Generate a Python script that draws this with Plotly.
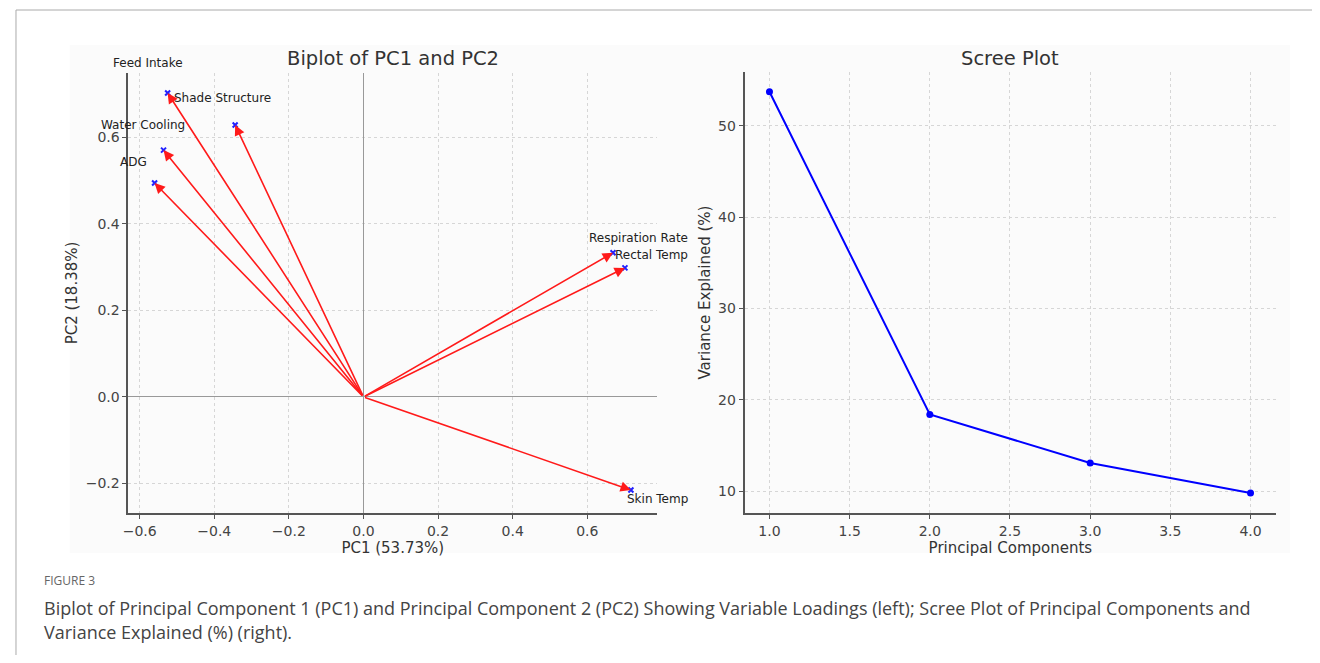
import plotly.graph_objects as go
from plotly.subplots import make_subplots

# ---- data ----
variables = ["Feed Intake", "Shade Structure", "Water Cooling", "ADG",
             "Respiration Rate", "Rectal Temp", "Skin Temp"]
pc1_loadings = [-0.525, -0.344, -0.536, -0.560, 0.669, 0.701, 0.717]
pc2_loadings = [0.702, 0.628, 0.570, 0.494, 0.333, 0.298, -0.215]
label_scale = 1.1

components = [1, 2, 3, 4]
variance_explained = [53.73, 18.38, 13.07, 9.78]

pc1_ticks = [-0.6, -0.4, -0.2, 0.0, 0.2, 0.4, 0.6]
pc2_ticks = [-0.2, 0.0, 0.2, 0.4, 0.6]
comp_ticks = [1.0, 1.5, 2.0, 2.5, 3.0, 3.5, 4.0]
var_ticks = [10, 20, 30, 40, 50]

# page body has 8px margin; figure sized to fit inside the window
OFF = 8
W, H = 1320 - 2 * OFF, 663 - 2 * OFF
def px_x(p): return (p - OFF) / W
def px_y(p): return 1 - (p - OFF) / H

FONT = "DejaVu Sans"
TXT = "#444444"

# biplot axes geometry
bx0, bx1 = 123, 654
by0, by1 = 513, 73
bxr = [-0.63, 0.787]
byr = [-0.268, 0.748]
x_ppu = (bx1 - bx0) / (bxr[1] - bxr[0])
y_ppu = (by0 - by1) / (byr[1] - byr[0])

fig = make_subplots(rows=1, cols=2)

# blue tip markers
fig.add_trace(go.Scatter(x=pc1_loadings, y=pc2_loadings, mode="markers",
                         marker=dict(color="#2020ff", size=5, symbol="x-thin",
                                     line=dict(color="#2020ff", width=2)),
                         showlegend=False, hoverinfo="skip"), row=1, col=1)

fig.add_trace(go.Scatter(x=components, y=variance_explained, mode="lines+markers",
                         line=dict(color="#0000ff", width=2),
                         marker=dict(color="#0000ff", size=7),
                         showlegend=False), row=1, col=2)

annotations = []
for name, px1, px2 in zip(variables, pc1_loadings, pc2_loadings):
    annotations.append(dict(x=px1, y=px2, ax=0, ay=0, xref="x", yref="y",
                            axref="x", ayref="y", showarrow=True, text="",
                            arrowhead=2, arrowsize=1.3, arrowwidth=1.6,
                            arrowcolor="#ff1a1a"))
    # label anchored at the tip, shifted out to label_scale * loading
    annotations.append(dict(x=px1, y=px2, xref="x", yref="y", text=name,
                            showarrow=False,
                            xshift=(label_scale - 1) * px1 * x_ppu,
                            yshift=(label_scale - 1) * px2 * y_ppu,
                            font=dict(family=FONT, size=12, color="#222222"),
                            xanchor="center", yanchor="middle"))

# subplot titles
annotations.append(dict(x=px_x((bx0 + bx1) / 2), y=px_y(58), xref="paper", yref="paper",
                        text="Biplot of PC1 and PC2", showarrow=False,
                        font=dict(family=FONT, size=19.5, color="#333333"),
                        xanchor="center", yanchor="middle"))
annotations.append(dict(x=px_x(1009), y=px_y(58), xref="paper", yref="paper",
                        text="Scree Plot", showarrow=False,
                        font=dict(family=FONT, size=19.5, color="#333333"),
                        xanchor="center", yanchor="middle"))

# caption
annotations.append(dict(x=px_x(36), y=px_y(580), xref="paper", yref="paper",
                        text="FIGURE 3", showarrow=False,
                        font=dict(family="Open Sans", size=12, color="#666666"),
                        xanchor="left", yanchor="middle"))
annotations.append(dict(x=px_x(36), y=px_y(608), xref="paper", yref="paper",
                        text="Biplot of Principal Component 1 (PC1) and Principal Component 2 (PC2) Showing Variable Loadings (left); Scree Plot of Principal Components and",
                        showarrow=False,
                        font=dict(family="Open Sans", size=18, color="#444444"),
                        xanchor="left", yanchor="middle"))
annotations.append(dict(x=px_x(36), y=px_y(632), xref="paper", yref="paper",
                        text="Variance Explained (%) (right).",
                        showarrow=False,
                        font=dict(family="Open Sans", size=18, color="#444444"),
                        xanchor="left", yanchor="middle"))

shapes = [
    # chart image background
    dict(type="rect", xref="paper", yref="paper", x0=px_x(64), x1=px_x(1290),
         y0=px_y(553), y1=px_y(45), fillcolor="#fbfbfb", line=dict(width=0), layer="below"),
    # page frame lines
    dict(type="line", xref="paper", yref="paper", x0=px_x(10), x1=1, y0=px_y(10), y1=px_y(10),
         line=dict(color="#aaaaaa", width=1)),
    dict(type="line", xref="paper", yref="paper", x0=px_x(10), x1=px_x(10), y0=0, y1=px_y(10),
         line=dict(color="#aaaaaa", width=1)),
]

axis_common = dict(showgrid=True, gridcolor="#d6d6d6", griddash="dot", gridwidth=1,
                   showline=True, linecolor="#555555", linewidth=2, mirror=False,
                   ticks="outside", ticklen=4, tickcolor="#555555",
                   tickfont=dict(family=FONT, size=14, color=TXT),
                   title_font=dict(family=FONT, size=15, color="#333333"))

fig.update_xaxes(**axis_common)
fig.update_yaxes(**axis_common)

fig.update_xaxes(domain=[px_x(bx0), px_x(bx1)], range=bxr,
                 tickvals=pc1_ticks, ticktext=[f"{v:.1f}".replace("-", "\u2212") for v in pc1_ticks],
                 zeroline=True, zerolinecolor="#999999", zerolinewidth=1.2,
                 title_text="PC1 (53.73%)", title_standoff=3, row=1, col=1)
fig.update_yaxes(domain=[px_y(by0), px_y(by1)], range=byr,
                 tickvals=pc2_ticks, ticktext=[f"{v:.1f}".replace("-", "\u2212") for v in pc2_ticks],
                 zeroline=True, zerolinecolor="#999999", zerolinewidth=1.2,
                 title_text="PC2 (18.38%)", title_standoff=4, row=1, col=1)
fig.update_xaxes(domain=[px_x(742), px_x(1276)], range=[0.845, 4.16],
                 tickvals=comp_ticks, ticktext=[f"{v:.1f}" for v in comp_ticks],
                 zeroline=False, title_text="Principal Components", title_standoff=3,
                 row=1, col=2)
fig.update_yaxes(domain=[px_y(513), px_y(72)], range=[7.59, 55.9],
                 tickvals=var_ticks, zeroline=False,
                 title_text="Variance Explained (%)", title_standoff=4, row=1, col=2)

fig.update_layout(width=W, height=H, margin=dict(l=0, r=0, t=0, b=0),
                  paper_bgcolor="white", plot_bgcolor="#fbfbfb",
                  annotations=annotations, shapes=shapes, showlegend=False)

fig.write_html("out.html")
